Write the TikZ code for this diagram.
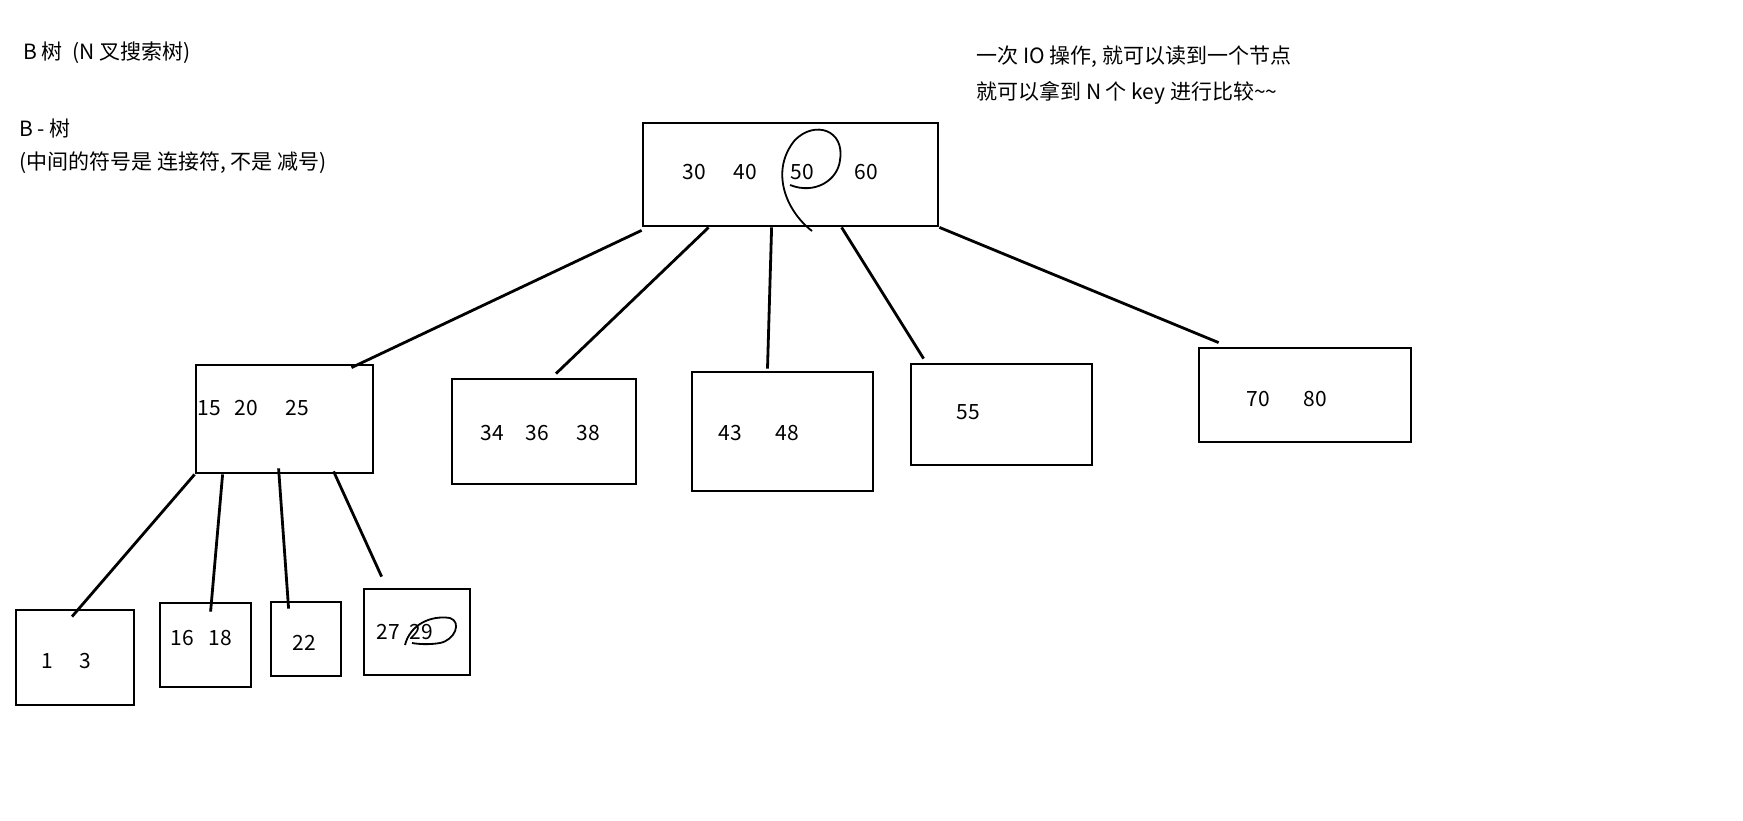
\documentclass[tikz,border=0pt]{standalone}
\usepackage{fontspec}
\setmainfont{Noto Sans CJK SC}
\begin{document}
\begin{tikzpicture}[x=1pt, y=-1pt, line width=2.8pt,
  box/.style={draw, inner sep=0pt},
  key/.style={font=\fontsize{21}{24}\selectfont, inner sep=0pt},
  note/.style={font=\fontsize{21}{24}\selectfont, inner sep=0pt, anchor=west}]
  \useasboundingbox (0,0) rectangle (1743,821);
  % notes on the left
  \node[note] (t1) at (22,53) {B 树\ \ (N 叉搜索树)};
  \node[note] (t2) at (18,129) {B - 树};
  \node[note] (t3) at (18,163) {(中间的符号是 连接符, 不是 减号)};
  % notes on the right
  \node[note] (t4) at (975,57) {一次 IO 操作, 就可以读到一个节点};
  \node[note] (t5) at (975,93) {就可以拿到 N 个 key 进行比较\textasciitilde\textasciitilde};
  % root
  \node[box, minimum width=295, minimum height=103] (root) at (790.5,174.5) {};
  \node[key] (k30) at (694,172) {30};
  \node[key] (k40) at (745,172) {40};
  \node[key] (k50) at (802,172) {50};
  \node[key] (k60) at (866,172) {60};
  % second level
  \node[box, minimum width=177, minimum height=108] (na) at (284.5,419) {};
  \node[key] at (209,408) {15};
  \node[key] at (246,408) {20};
  \node[key] at (297,408) {25};
  \node[box, minimum width=184, minimum height=105] (nb) at (544,431.5) {};
  \node[key] at (492,433) {34};
  \node[key] at (537,433) {36};
  \node[key] at (588,433) {38};
  \node[box, minimum width=181, minimum height=119] (nc) at (782.5,431.5) {};
  \node[key] at (730,433) {43};
  \node[key] at (787,433) {48};
  \node[box, minimum width=181, minimum height=101] (nd) at (1001.5,414.5) {};
  \node[key] at (968,412) {55};
  \node[box, minimum width=212, minimum height=94] (ne) at (1305,395) {};
  \node[key] at (1258,399) {70};
  \node[key] at (1315,399) {80};
  % leaves
  \node[box, minimum width=118, minimum height=95] (la) at (75,657.5) {};
  \node[key] at (47,661) {1};
  \node[key] at (85,661) {3};
  \node[box, minimum width=91, minimum height=84] (lb) at (205.5,645) {};
  \node[key] at (182,638) {16};
  \node[key] at (220,638) {18};
  \node[box, minimum width=70, minimum height=74] (lc) at (306,639) {};
  \node[key] at (304,643) {22};
  \node[box, minimum width=106, minimum height=86] (ld) at (417,632) {};
  \node[key] (k27) at (388,632) {27};
  \node[key] (k29) at (421,632) {29};
  % connectors
  \draw ([yshift=-3]root.south west) -- ([xshift=67,yshift=-4]na.north);
  \draw ([xshift=67]root.south west) -- ([xshift=12,yshift=4]nb.north);
  \draw ([xshift=130]root.south west) -- ([xshift=-15,yshift=2]nc.north);
  \draw ([xshift=200]root.south west) -- ([xshift=14,yshift=4]nd.north west);
  \draw (root.south east) -- ([xshift=21,yshift=4]ne.north west);
  \draw (na.south west) -- ([xshift=-3,yshift=-8]la.north);
  \draw ([xshift=28]na.south west) -- ([xshift=52,yshift=-10]lb.north west);
  \draw ([xshift=84,yshift=6]na.south west) -- ([xshift=19,yshift=-8]lc.north west);
  \draw ([xshift=139,yshift=3]na.south west) -- ([xshift=19,yshift=11]ld.north west);
  % hand drawn marks
  \draw[line width=1.8pt] (812,231) .. controls (785,210) and (770,170) .. (795,140)
    .. controls (815,120) and (845,130) .. (840,160)
    .. controls (838,180) and (815,195) .. (790,185);
  \draw[line width=1.8pt] (405,645) .. controls (410,625) and (430,615) .. (450,618)
    .. controls (462,622) and (455,640) .. (440,643)
    .. controls (428,645) and (418,644) .. (412,643);
\end{tikzpicture}
\end{document}
